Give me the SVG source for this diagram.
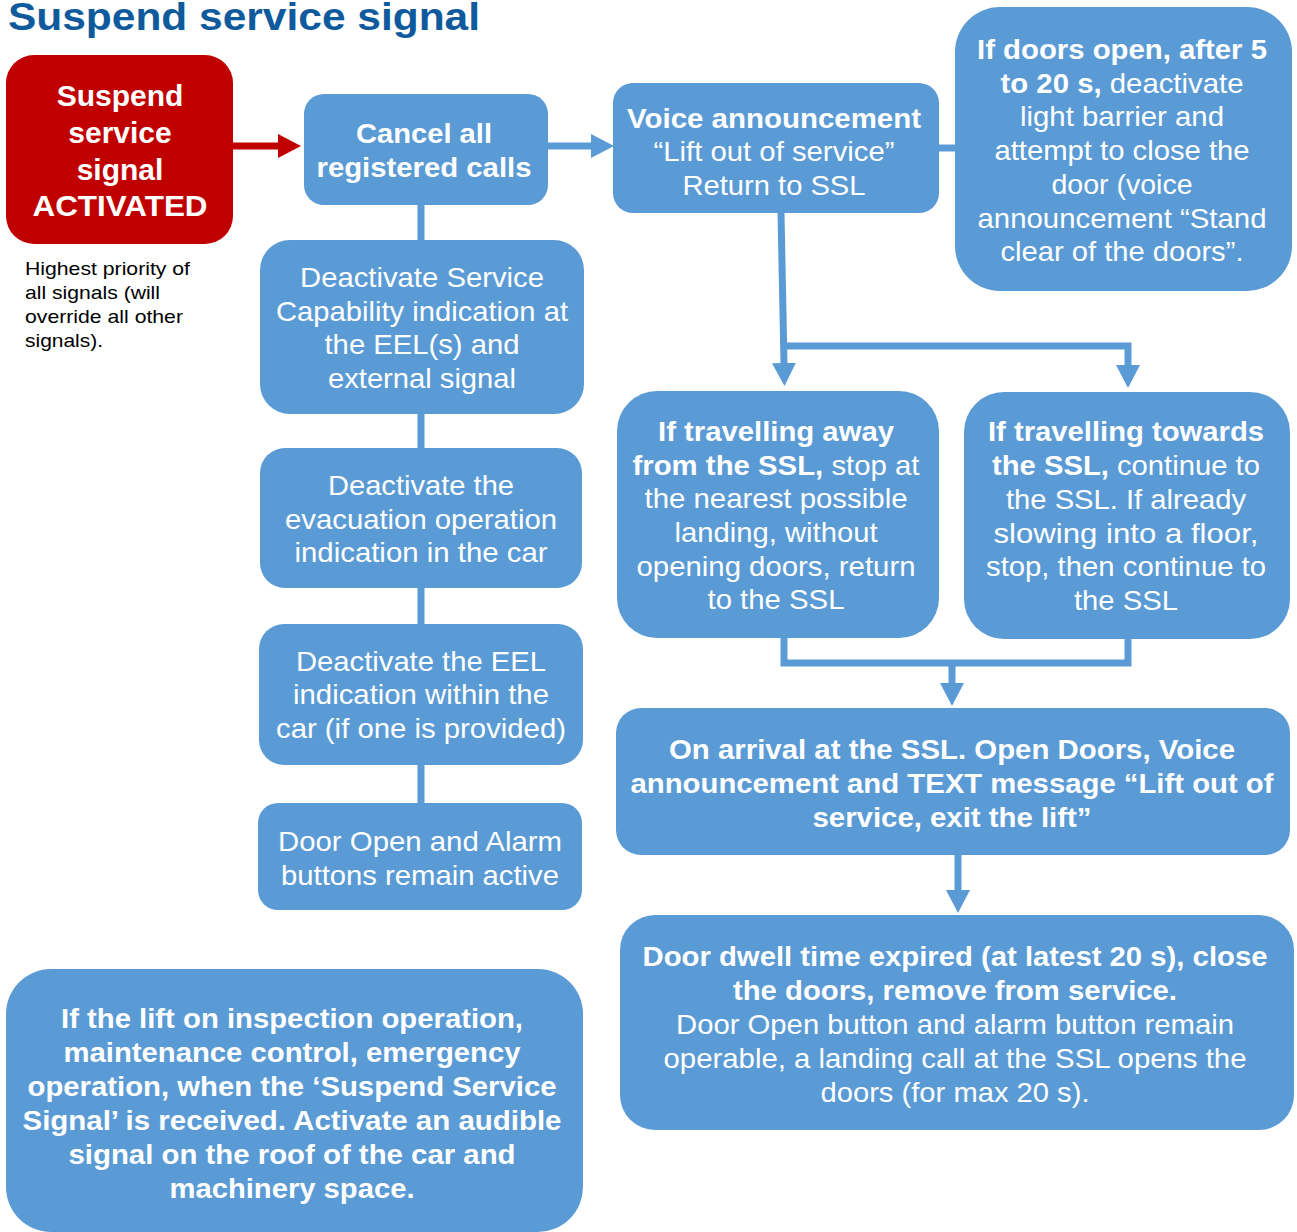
<svg xmlns="http://www.w3.org/2000/svg" width="1297" height="1232" viewBox="0 0 1297 1232">
<style>
.box{fill:#5B9BD5}
.red{fill:#C00000}
.t{font-family:"Liberation Sans",Arial,sans-serif;fill:#fff;text-anchor:middle;font-size:28px}
.b{font-weight:bold}
.note{font-family:"Liberation Sans",Arial,sans-serif;fill:#000;font-size:19px}
.title{font-family:"Liberation Sans",Arial,sans-serif;fill:#0E5A9C;font-size:39px;font-weight:bold}
.con{fill:none;stroke:#5B9BD5;stroke-width:7}
.conr{fill:none;stroke:#C00000;stroke-width:7}
</style>
<defs>
<marker id="ah" markerUnits="userSpaceOnUse" markerWidth="23" markerHeight="24" refX="0" refY="12" orient="auto"><path d="M0,0 L23,12 L0,24 z" fill="#5B9BD5"/></marker>
<marker id="ahr" markerUnits="userSpaceOnUse" markerWidth="23" markerHeight="24" refX="0" refY="12" orient="auto"><path d="M0,0 L23,12 L0,24 z" fill="#C00000"/></marker>
</defs>
<rect width="1297" height="1232" fill="#fff"/>
<text class="title" x="8" y="30" textLength="472" lengthAdjust="spacingAndGlyphs">Suspend service signal</text>

<g id="connectors">
<path class="conr" d="M233,146 H278" marker-end="url(#ahr)"/>
<path class="con" d="M548,146 H591" marker-end="url(#ah)"/>
<path class="con" d="M939,148 H956"/>
<path class="con" d="M421,205 V803"/>
<path class="con" d="M781,213 L784,363" marker-end="url(#ah)"/>
<path class="con" d="M784,346 H1128 V365" marker-end="url(#ah)"/>
<path class="con" d="M784,638 V663 H1128 V639"/>
<path class="con" d="M952,660 V683" marker-end="url(#ah)"/>
<path class="con" d="M958,855 V890" marker-end="url(#ah)"/>
</g>

<g id="n-activated">
<rect class="red" x="6" y="55" width="227" height="189" rx="28"/>
<text class="t b" x="120" y="106" style="font-size:30px">Suspend</text>
<text class="t b" x="120" y="143" style="font-size:30px">service</text>
<text class="t b" x="120" y="180" style="font-size:30px">signal</text>
<text class="t b" x="120" y="216" style="font-size:30px" textLength="175" lengthAdjust="spacingAndGlyphs">ACTIVATED</text>
</g>

<g id="n-note">
<text class="note" x="25" y="275" textLength="165" lengthAdjust="spacingAndGlyphs">Highest priority of</text>
<text class="note" x="25" y="299" textLength="135" lengthAdjust="spacingAndGlyphs">all signals (will</text>
<text class="note" x="25" y="323" textLength="158" lengthAdjust="spacingAndGlyphs">override all other</text>
<text class="note" x="25" y="347" textLength="78" lengthAdjust="spacingAndGlyphs">signals).</text>
</g>

<g id="n-cancel">
<rect class="box" x="304" y="94" width="244" height="111" rx="20"/>
<text class="t b" x="424" y="143" textLength="136" lengthAdjust="spacingAndGlyphs">Cancel all</text>
<text class="t b" x="424" y="177" textLength="215" lengthAdjust="spacingAndGlyphs">registered calls</text>
</g>

<g id="n-voice">
<rect class="box" x="613" y="83" width="326" height="130" rx="20"/>
<text class="t b" x="774" y="128" textLength="294" lengthAdjust="spacingAndGlyphs">Voice announcement</text>
<text class="t" x="774" y="161" textLength="241" lengthAdjust="spacingAndGlyphs">“Lift out of service”</text>
<text class="t" x="774" y="195" textLength="183" lengthAdjust="spacingAndGlyphs">Return to SSL</text>
</g>

<g id="n-doors-open">
<rect class="box" x="955" y="7" width="337" height="284" rx="45"/>
<text class="t b" x="1122" y="59" textLength="290" lengthAdjust="spacingAndGlyphs">If doors open, after 5</text>
<text class="t" x="1122" y="93" textLength="243" lengthAdjust="spacingAndGlyphs"><tspan class="b">to 20 s,</tspan> deactivate</text>
<text class="t" x="1122" y="126" textLength="204" lengthAdjust="spacingAndGlyphs">light barrier and</text>
<text class="t" x="1122" y="160" textLength="255" lengthAdjust="spacingAndGlyphs">attempt to close the</text>
<text class="t" x="1122" y="194" textLength="141" lengthAdjust="spacingAndGlyphs">door (voice</text>
<text class="t" x="1122" y="228" textLength="289" lengthAdjust="spacingAndGlyphs">announcement “Stand</text>
<text class="t" x="1122" y="261" textLength="243" lengthAdjust="spacingAndGlyphs">clear of the doors”.</text>
</g>

<g id="n-deact-service">
<rect class="box" x="260" y="240" width="324" height="174" rx="30"/>
<text class="t" x="422" y="287" textLength="244" lengthAdjust="spacingAndGlyphs">Deactivate Service</text>
<text class="t" x="422" y="321" textLength="292" lengthAdjust="spacingAndGlyphs">Capability indication at</text>
<text class="t" x="422" y="354" textLength="195" lengthAdjust="spacingAndGlyphs">the EEL(s) and</text>
<text class="t" x="422" y="388" textLength="188" lengthAdjust="spacingAndGlyphs">external signal</text>
</g>

<g id="n-deact-evac">
<rect class="box" x="260" y="448" width="322" height="140" rx="25"/>
<text class="t" x="421" y="495" textLength="186" lengthAdjust="spacingAndGlyphs">Deactivate the</text>
<text class="t" x="421" y="529" textLength="272" lengthAdjust="spacingAndGlyphs">evacuation operation</text>
<text class="t" x="421" y="562" textLength="253" lengthAdjust="spacingAndGlyphs">indication in the car</text>
</g>

<g id="n-deact-eel">
<rect class="box" x="259" y="624" width="324" height="141" rx="25"/>
<text class="t" x="421" y="671" textLength="250" lengthAdjust="spacingAndGlyphs">Deactivate the EEL</text>
<text class="t" x="421" y="704" textLength="256" lengthAdjust="spacingAndGlyphs">indication within the</text>
<text class="t" x="421" y="738" textLength="290" lengthAdjust="spacingAndGlyphs">car (if one is provided)</text>
</g>

<g id="n-door-alarm">
<rect class="box" x="258" y="803" width="324" height="107" rx="20"/>
<text class="t" x="420" y="851" textLength="284" lengthAdjust="spacingAndGlyphs">Door Open and Alarm</text>
<text class="t" x="420" y="885" textLength="278" lengthAdjust="spacingAndGlyphs">buttons remain active</text>
</g>

<g id="n-away">
<rect class="box" x="617" y="391" width="322" height="247" rx="40"/>
<text class="t b" x="776" y="441" textLength="236" lengthAdjust="spacingAndGlyphs">If travelling away</text>
<text class="t" x="776" y="475" textLength="287" lengthAdjust="spacingAndGlyphs"><tspan class="b">from the SSL,</tspan> stop at</text>
<text class="t" x="776" y="508" textLength="263" lengthAdjust="spacingAndGlyphs">the nearest possible</text>
<text class="t" x="776" y="542" textLength="203" lengthAdjust="spacingAndGlyphs">landing, without</text>
<text class="t" x="776" y="576" textLength="279" lengthAdjust="spacingAndGlyphs">opening doors, return</text>
<text class="t" x="776" y="609" textLength="137" lengthAdjust="spacingAndGlyphs">to the SSL</text>
</g>

<g id="n-towards">
<rect class="box" x="964" y="392" width="326" height="247" rx="40"/>
<text class="t b" x="1126" y="441" textLength="276" lengthAdjust="spacingAndGlyphs">If travelling towards</text>
<text class="t" x="1126" y="475" textLength="268" lengthAdjust="spacingAndGlyphs"><tspan class="b">the SSL,</tspan> continue to</text>
<text class="t" x="1126" y="509" textLength="240" lengthAdjust="spacingAndGlyphs">the SSL. If already</text>
<text class="t" x="1126" y="543" textLength="265" lengthAdjust="spacingAndGlyphs">slowing into a floor,</text>
<text class="t" x="1126" y="576" textLength="280" lengthAdjust="spacingAndGlyphs">stop, then continue to</text>
<text class="t" x="1126" y="610" textLength="104" lengthAdjust="spacingAndGlyphs">the SSL</text>
</g>

<g id="n-arrival">
<rect class="box" x="616" y="708" width="674" height="147" rx="25"/>
<text class="t b" x="952" y="759" textLength="566" lengthAdjust="spacingAndGlyphs">On arrival at the SSL. Open Doors, Voice</text>
<text class="t b" x="952" y="793" textLength="643" lengthAdjust="spacingAndGlyphs">announcement and TEXT message “Lift out of</text>
<text class="t b" x="952" y="827" textLength="279" lengthAdjust="spacingAndGlyphs">service, exit the lift”</text>
</g>

<g id="n-dwell">
<rect class="box" x="620" y="915" width="674" height="215" rx="35"/>
<text class="t b" x="955" y="966" textLength="625" lengthAdjust="spacingAndGlyphs">Door dwell time expired (at latest 20 s), close</text>
<text class="t b" x="955" y="1000" textLength="444" lengthAdjust="spacingAndGlyphs">the doors, remove from service.</text>
<text class="t" x="955" y="1034" textLength="558" lengthAdjust="spacingAndGlyphs">Door Open button and alarm button remain</text>
<text class="t" x="955" y="1068" textLength="583" lengthAdjust="spacingAndGlyphs">operable, a landing call at the SSL opens the</text>
<text class="t" x="955" y="1102" textLength="269" lengthAdjust="spacingAndGlyphs">doors (for max 20 s).</text>
</g>

<g id="n-inspection">
<rect class="box" x="6" y="969" width="577" height="263" rx="45"/>
<text class="t b" x="292" y="1028" textLength="462" lengthAdjust="spacingAndGlyphs">If the lift on inspection operation,</text>
<text class="t b" x="292" y="1062" textLength="457" lengthAdjust="spacingAndGlyphs">maintenance control, emergency</text>
<text class="t b" x="292" y="1096" textLength="529" lengthAdjust="spacingAndGlyphs">operation, when the ‘Suspend Service</text>
<text class="t b" x="292" y="1130" textLength="539" lengthAdjust="spacingAndGlyphs">Signal’ is received. Activate an audible</text>
<text class="t b" x="292" y="1164" textLength="447" lengthAdjust="spacingAndGlyphs">signal on the roof of the car and</text>
<text class="t b" x="292" y="1198" textLength="245" lengthAdjust="spacingAndGlyphs">machinery space.</text>
</g>
</svg>
